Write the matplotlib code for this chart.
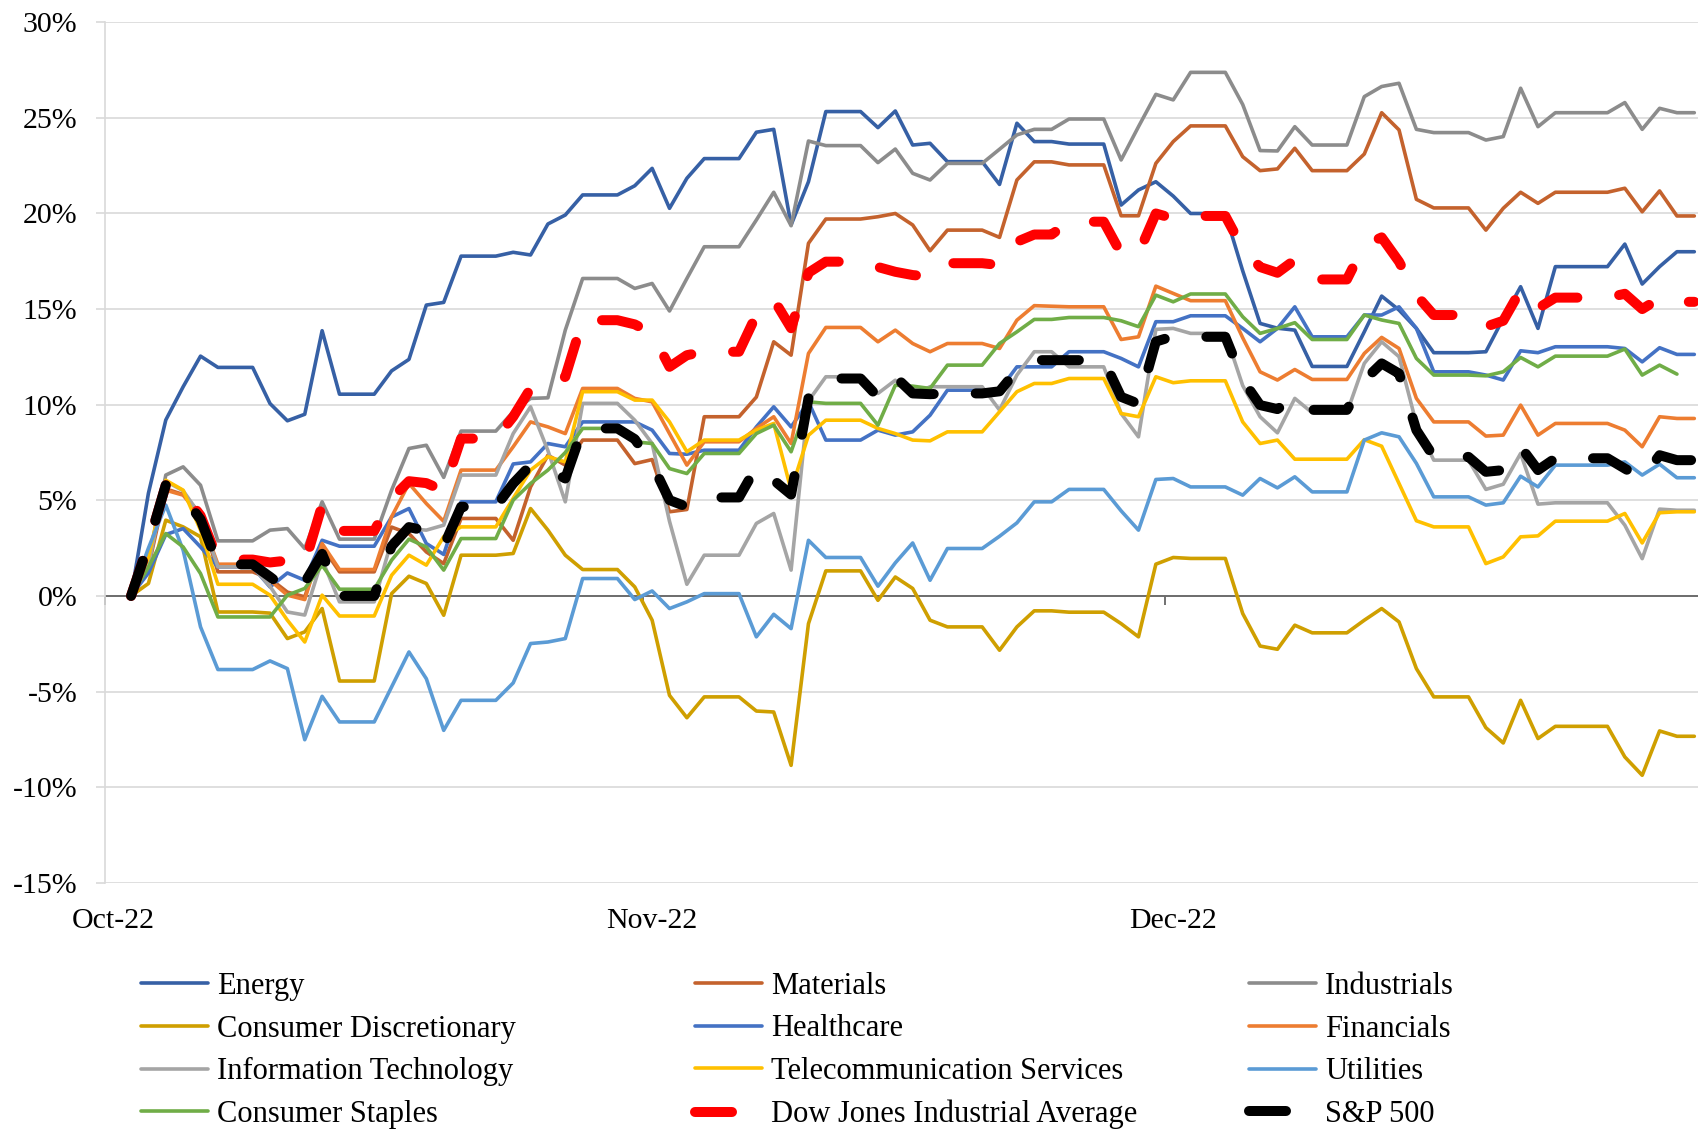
import numpy as np
import pandas as pd
import matplotlib
matplotlib.use('Agg')
import matplotlib.pyplot as plt
import matplotlib.dates as mdates
from matplotlib.ticker import FuncFormatter

plt.rcParams['font.family'] = 'Liberation Serif'

# daily points, weekends carry Friday's value
dates = pd.date_range('2022-10-02', '2022-12-31', freq='D')

energy = [0, 5.37, 9.2, 10.94, 12.54, 11.95, 11.95, 11.95,
          10.06, 9.16, 9.5, 13.87, 10.55, 10.55, 10.55,
          11.77, 12.37, 15.21, 15.35, 17.77, 17.77, 17.77,
          17.97, 17.83, 19.45, 19.92, 20.97, 20.97, 20.97,
          21.45, 22.36, 20.27, 21.84, 22.87, 22.87, 22.87,
          24.25, 24.4, 19.4, 21.66, 25.33, 25.33, 25.33,
          24.49, 25.36, 23.58, 23.67, 22.71, 22.71, 22.71,
          21.52, 24.72, 23.76, 23.76, 23.63, 23.63, 23.63,
          20.44, 21.23, 21.66, 20.91, 20.0, 20.0, 20.0,
          17.0, 14.25, 14.0, 13.9, 12.0, 12.0, 12.0,
          13.81, 15.68, 14.95, 13.99, 12.72, 12.72, 12.72,
          12.77, 14.51, 16.17, 13.99, 17.22, 17.22, 17.22,
          17.22, 18.4, 16.31, 17.22, 18.0, 18.0]

materials = [0, 1.5, 5.6, 5.3, 4.3, 1.26, 1.26, 1.26,
             0.9, 0.2, -0.05, 2.6, 1.26, 1.26, 1.26,
             3.6, 3.26, 2.3, 1.69, 4.05, 4.05, 4.05,
             2.91, 5.7, 7.36, 6.84, 8.15, 8.15, 8.15,
             6.92, 7.13, 4.4, 4.52, 9.37, 9.37, 9.37,
             10.4, 13.29, 12.59, 18.44, 19.71, 19.71, 19.71,
             19.83, 20.0, 19.4, 18.05, 19.13, 19.13, 19.13,
             18.75, 21.75, 22.7, 22.7, 22.54, 22.54, 22.54,
             19.88, 19.88, 22.62, 23.76, 24.58, 24.58, 24.58,
             22.97, 22.24, 22.33, 23.41, 22.24, 22.24, 22.24,
             23.11, 25.27, 24.37, 20.74, 20.29, 20.29, 20.29,
             19.13, 20.27, 21.11, 20.53, 21.11, 21.11, 21.11,
             21.11, 21.32, 20.09, 21.18, 19.87, 19.87]

industrials = [0, 1.8, 6.32, 6.75, 5.79, 2.88, 2.88, 2.88,
               3.44, 3.52, 2.48, 4.92, 2.97, 2.97, 2.97,
               5.53, 7.71, 7.88, 6.2, 8.62, 8.62, 8.62,
               9.63, 10.33, 10.36, 13.9, 16.6, 16.6, 16.6,
               16.08, 16.34, 14.9, 16.6, 18.26, 18.26, 18.26,
               19.66, 21.11, 19.36, 23.79, 23.55, 23.55, 23.55,
               22.66, 23.37, 22.1, 21.75, 22.62, 22.62, 22.62,
               23.36, 24.11, 24.4, 24.4, 24.94, 24.94, 24.94,
               22.8, 24.54, 26.23, 25.94, 27.38, 27.38, 27.38,
               25.7, 23.29, 23.27, 24.54, 23.58, 23.58, 23.58,
               26.11, 26.64, 26.81, 24.4, 24.23, 24.23, 24.23,
               23.84, 24.02, 26.55, 24.54, 25.27, 25.27, 25.27,
               25.27, 25.8, 24.4, 25.5, 25.27, 25.27]

cons_disc = [0, 0.65, 3.96, 3.61, 3.09, -0.84, -0.84, -0.84,
             -0.9, -2.23, -1.88, -0.66, -4.45, -4.45, -4.45,
             0.12, 1.03, 0.65, -1.01, 2.13, 2.13, 2.13,
             2.22, 4.57, 3.44, 2.13, 1.38, 1.38, 1.38,
             0.47, -1.27, -5.2, -6.37, -5.28, -5.28, -5.28,
             -6.02, -6.07, -8.86, -1.45, 1.31, 1.31, 1.31,
             -0.23, 0.99, 0.39, -1.27, -1.62, -1.62, -1.62,
             -2.84, -1.62, -0.78, -0.78, -0.85, -0.85, -0.85,
             -1.45, -2.14, 1.66, 2.01, 1.96, 1.96, 1.96,
             -0.92, -2.62, -2.79, -1.53, -1.93, -1.93, -1.93,
             -1.27, -0.66, -1.36, -3.8, -5.28, -5.28, -5.28,
             -6.89, -7.69, -5.46, -7.46, -6.82, -6.82, -6.82,
             -6.82, -8.42, -9.38, -7.06, -7.34, -7.34]

healthcare = [0, 1.2, 3.21, 3.52, 2.56, 1.52, 1.52, 1.52,
              0.47, 1.2, 0.82, 2.91, 2.6, 2.6, 2.6,
              4.13, 4.57, 2.74, 2.17, 4.92, 4.92, 4.92,
              6.9, 7.01, 7.97, 7.8, 9.1, 9.1, 9.1,
              9.1, 8.67, 7.45, 7.41, 7.62, 7.62, 7.62,
              8.84, 9.89, 8.84, 10.15, 8.15, 8.15, 8.15,
              8.67, 8.41, 8.58, 9.45, 10.76, 10.76, 10.76,
              10.76, 11.98, 11.98, 11.98, 12.77, 12.77, 12.77,
              12.42, 11.98, 14.34, 14.34, 14.65, 14.65, 14.65,
              13.99, 13.29, 13.99, 15.12, 13.55, 13.55, 13.55,
              14.69, 14.69, 15.12, 13.99, 11.72, 11.72, 11.72,
              11.55, 11.29, 12.82, 12.72, 13.03, 13.03, 13.03,
              13.03, 12.94, 12.24, 12.98, 12.63, 12.63]

financials = [0, 2.0, 5.53, 5.27, 4.14, 1.66, 1.66, 1.66,
              0.82, 0.04, -0.19, 2.74, 1.38, 1.38, 1.38,
              4.14, 5.88, 4.83, 3.9, 6.58, 6.58, 6.58,
              7.8, 9.1, 8.84, 8.49, 10.85, 10.85, 10.85,
              10.33, 10.15, 8.49, 6.84, 8.06, 8.06, 8.06,
              8.76, 9.37, 7.97, 12.68, 14.04, 14.04, 14.04,
              13.29, 13.9, 13.2, 12.77, 13.2, 13.2, 13.2,
              12.94, 14.42, 15.18, 15.15, 15.12, 15.12, 15.12,
              13.41, 13.55, 16.2, 15.82, 15.44, 15.44, 15.44,
              13.5, 11.72, 11.29, 11.84, 11.32, 11.32, 11.32,
              12.68, 13.52, 12.94, 10.33, 9.1, 9.1, 9.1,
              8.36, 8.41, 9.98, 8.41, 9.02, 9.02, 9.02,
              9.02, 8.67, 7.8, 9.37, 9.28, 9.28]

info_tech = [0, 1.6, 6.0, 5.5, 4.2, 1.52, 1.52, 1.52,
             0.5, -0.84, -1.0, 1.9, -0.31, -0.31, -0.31,
             2.9, 3.52, 3.44, 3.7, 6.32, 6.32, 6.32,
             8.49, 9.89, 7.6, 4.92, 10.07, 10.07, 10.07,
             9.19, 7.97, 3.9, 0.61, 2.13, 2.13, 2.13,
             3.79, 4.31, 1.35, 10.2, 11.46, 11.46, 11.46,
             10.59, 11.28, 10.5, 10.94, 10.94, 10.94, 10.94,
             9.72, 11.55, 12.77, 12.77, 11.98, 11.98, 11.98,
             9.54, 8.32, 13.94, 13.99, 13.73, 13.73, 13.73,
             11.0, 9.37, 8.53, 10.33, 9.58, 9.58, 9.58,
             12.16, 13.29, 12.51, 9.0, 7.1, 7.1, 7.1,
             5.57, 5.84, 7.45, 4.8, 4.87, 4.87, 4.87,
             4.87, 3.7, 1.95, 4.54, 4.48, 4.48]

telecom = [0, 2.0, 6.05, 5.53, 3.44, 0.61, 0.61, 0.61,
           0.04, -1.27, -2.41, 0.04, -1.05, -1.05, -1.05,
           1.08, 2.13, 1.61, 3.1, 3.61, 3.61, 3.61,
           5.1, 6.58, 7.28, 7.01, 10.68, 10.68, 10.68,
           10.24, 10.24, 9.1, 7.54, 8.15, 8.15, 8.15,
           8.67, 9.02, 5.53, 8.4, 9.19, 9.19, 9.19,
           8.76, 8.49, 8.15, 8.11, 8.58, 8.58, 8.58,
           9.63, 10.68, 11.11, 11.11, 11.37, 11.37, 11.37,
           9.54, 9.37, 11.46, 11.15, 11.25, 11.25, 11.25,
           9.1, 7.97, 8.15, 7.15, 7.15, 7.15, 7.15,
           8.17, 7.83, 5.88, 3.93, 3.61, 3.61, 3.61,
           1.69, 2.04, 3.09, 3.14, 3.91, 3.91, 3.91,
           3.91, 4.31, 2.77, 4.35, 4.4, 4.4]

utilities = [0, 2.5, 4.75, 2.39, -1.62, -3.85, -3.85, -3.85,
             -3.4, -3.8, -7.52, -5.25, -6.59, -6.59, -6.59,
             -4.76, -2.93, -4.33, -7.03, -5.46, -5.46, -5.46,
             -4.55, -2.49, -2.41, -2.23, 0.91, 0.91, 0.91,
             -0.19, 0.26, -0.66, -0.31, 0.12, 0.12, 0.12,
             -2.14, -0.96, -1.71, 2.91, 2.01, 2.01, 2.01,
             0.51, 1.73, 2.77, 0.82, 2.48, 2.48, 2.48,
             3.12, 3.82, 4.92, 4.92, 5.57, 5.57, 5.57,
             4.45, 3.44, 6.09, 6.14, 5.7, 5.7, 5.7,
             5.27, 6.14, 5.65, 6.23, 5.44, 5.44, 5.44,
             8.15, 8.53, 8.32, 6.93, 5.18, 5.18, 5.18,
             4.75, 4.87, 6.26, 5.7, 6.84, 6.84, 6.84,
             6.84, 7.01, 6.32, 6.89, 6.18, 6.18]

cons_staples = [0, 1.5, 3.26, 2.56, 1.17, -1.1, -1.1, -1.1,
                -1.1, 0.04, 0.39, 1.6, 0.35, 0.35, 0.35,
                1.87, 2.97, 2.56, 1.35, 3.0, 3.0, 3.0,
                5.01, 5.88, 6.58, 7.5, 8.76, 8.76, 8.76,
                8.06, 7.97, 6.66, 6.4, 7.45, 7.45, 7.45,
                8.49, 8.93, 7.54, 10.15, 10.07, 10.07, 10.07,
                8.93, 11.02, 10.97, 10.85, 12.07, 12.07, 12.07,
                13.2, 13.81, 14.46, 14.46, 14.56, 14.56, 14.56,
                14.39, 14.08, 15.73, 15.38, 15.79, 15.79, 15.79,
                14.6, 13.73, 13.99, 14.29, 13.41, 13.41, 13.41,
                14.69, 14.43, 14.25, 12.42, 11.55, 11.55, 11.55,
                11.51, 11.72, 12.47, 11.98, 12.54, 12.54, 12.54,
                12.54, 12.91, 11.55, 12.07, 11.6, np.nan]

djia = [0, 2.7, 5.8, 5.4, 4.2, 1.9, 1.9, 1.9,
        1.75, 1.85, 1.7, 4.75, 3.4, 3.4, 3.4,
        5.1, 6.0, 5.9, 5.5, 8.23, 8.23, 8.23,
        9.37, 10.85, 10.94, 11.46, 14.42, 14.42, 14.42,
        14.2, 13.73, 11.98, 12.59, 12.77, 12.77, 12.77,
        14.7, 15.5, 14.0, 16.9, 17.48, 17.48, 17.48,
        17.2, 16.95, 16.78, 16.7, 17.4, 17.4, 17.4,
        17.3, 18.52, 18.9, 18.9, 19.57, 19.57, 19.57,
        17.9, 17.9, 20.0, 19.74, 19.87, 19.87, 19.87,
        18.17, 17.2, 16.9, 17.57, 16.55, 16.55, 16.55,
        18.35, 18.75, 17.48, 15.73, 14.69, 14.69, 14.69,
        14.08, 14.39, 15.99, 15.04, 15.6, 15.6, 15.6,
        15.6, 15.8, 15.0, 15.56, 15.38, 15.38]

sp500 = [0, 2.7, 5.8, 5.2, 4.0, 1.65, 1.65, 1.65,
         1.0, 0.3, 0.7, 2.2, 0.0, 0.0, 0.0,
         2.6, 3.6, 3.4, 2.6, 4.66, 4.66, 4.66,
         5.88, 6.84, 6.61, 6.14, 8.76, 8.76, 8.76,
         8.2, 6.9, 5.01, 4.66, 5.15, 5.15, 5.15,
         6.75, 6.05, 5.3, 10.33, 11.37, 11.37, 11.37,
         10.41, 11.46, 10.59, 10.55, 10.59, 10.59, 10.59,
         10.7, 11.81, 12.33, 12.33, 12.33, 12.33, 12.33,
         10.41, 10.05, 13.3, 13.58, 13.55, 13.55, 13.55,
         11.3, 9.98, 9.77, 10.4, 9.73, 9.73, 9.73,
         11.28, 12.16, 11.63, 8.67, 7.27, 7.27, 7.27,
         6.49, 6.58, 7.8, 6.58, 7.2, 7.2, 7.2,
         7.2, 6.66, 6.14, 7.36, 7.1, 7.1]

sectors = [
    ('Energy', energy, '#3660A5'),
    ('Materials', materials, '#C4622D'),
    ('Industrials', industrials, '#8C8C8C'),
    ('Consumer Discretionary', cons_disc, '#CF9F00'),
    ('Healthcare', healthcare, '#4472C4'),
    ('Financials', financials, '#ED7D31'),
    ('Information Technology', info_tech, '#A5A5A5'),
    ('Telecommunication Services', telecom, '#FFC000'),
    ('Utilities', utilities, '#5B9BD5'),
    ('Consumer Staples', cons_staples, '#70AD47'),
]
indices = [
    ('Dow Jones Industrial Average', djia, '#FF0000'),
    ('S&P 500', sp500, '#000000'),
]

fig = plt.figure(figsize=(16.99, 11.30), dpi=100)
ax = fig.add_axes([0.0618, 0.2188, 0.9382, 0.7615])

lines = {}
for name, vals, col in sectors:
    ln, = ax.plot(dates, vals, color=col, lw=2.6, label=name,
                  solid_joinstyle='round', solid_capstyle='round')
    lines[name] = ln
for name, vals, col in indices:
    ln, = ax.plot(dates, vals, color=col, lw=7.2, label=name,
                  dashes=(3.7, 4.2), dash_capstyle='round', dash_joinstyle='round')
    lines[name] = ln

start = mdates.date2num(pd.Timestamp('2022-10-01'))
ax.set_xlim(start - 0.5, start + 91.27)
ax.set_ylim(-15, 30)

# y axis
ax.set_yticks(range(-15, 31, 5))
ax.yaxis.set_major_formatter(FuncFormatter(lambda v, p: f'{v:.0f}%'))
ax.grid(axis='y', color='#D9D9D9', lw=1.2)
ax.set_axisbelow(True)
ax.tick_params(axis='y', direction='out', length=6.5, width=1.2, color='#D9D9D9',
               labelsize=21.5, pad=13.5)
for s in ['top', 'right', 'bottom']:
    ax.spines[s].set_visible(False)
ax.spines['left'].set_color('#D9D9D9')
ax.spines['left'].set_linewidth(1.2)

# month labels at the bottom
month_starts = pd.to_datetime(['2022-10-01', '2022-11-01', '2022-12-01'])
ax.set_xticks(mdates.date2num(month_starts))
ax.xaxis.set_major_formatter(mdates.DateFormatter('%b-%y'))
ax.tick_params(axis='x', length=0, labelsize=21.5, pad=18)

# zero line with month ticks
ax.axhline(0, color='#595959', lw=1.2, zorder=1.5)
sec = ax.secondary_xaxis(1 / 3)
sec.set_xticks(mdates.date2num(month_starts) - 0.5)
sec.tick_params(axis='x', direction='out', length=6.5, width=1.2, color='#595959',
                labelbottom=False, labeltop=False)
for s in sec.spines.values():
    s.set_visible(False)

# legend: three columns, four rows
cols = [['Energy', 'Consumer Discretionary', 'Information Technology', 'Consumer Staples'],
        ['Materials', 'Healthcare', 'Telecommunication Services', 'Dow Jones Industrial Average'],
        ['Industrials', 'Financials', 'Utilities', 'S&P 500']]
col_x = [0.083, 0.409, 0.735]
for names, x in zip(cols, col_x):
    leg = fig.legend([lines[n] for n in names], names, loc='center left',
                     bbox_to_anchor=(x, 0.0704), frameon=False, fontsize=22,
                     handlelength=2.2, handletextpad=0.3, labelspacing=0.45,
                     borderpad=0, borderaxespad=0)

fig.savefig('out.png', dpi=100)
